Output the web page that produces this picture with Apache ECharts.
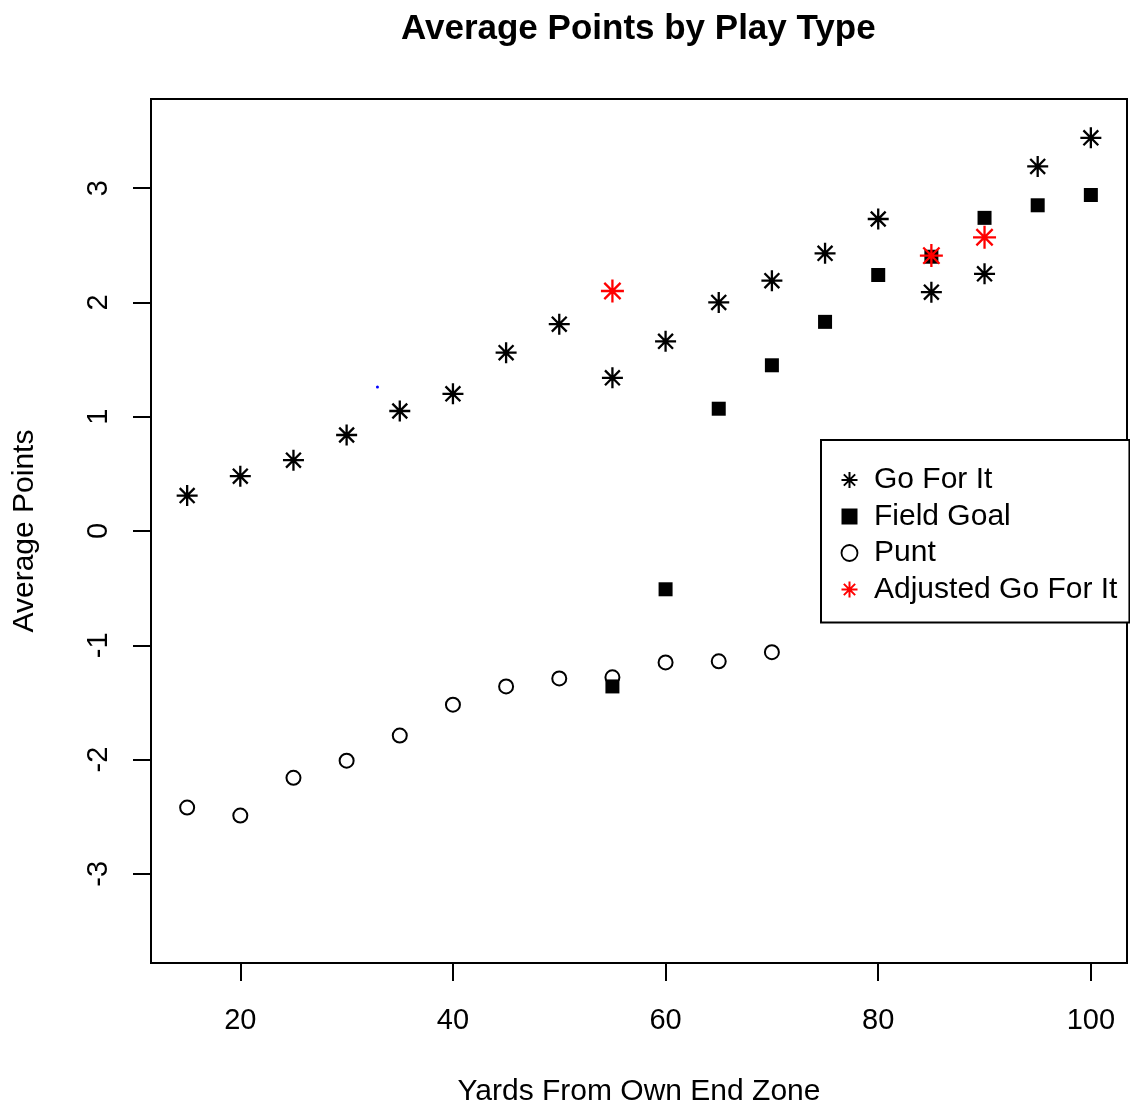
<!DOCTYPE html>
<html>
<head>
<meta charset="utf-8">
<script src="https://cdn.jsdelivr.net/npm/echarts@6/dist/echarts.min.js"></script>
<style>
html,body{margin:0;padding:0;background:#fff;}
#chart{width:1130px;height:1105px;}
</style>
</head>
<body>
<div id="chart"></div>
<script>
// ---- data ----
var goYards = [15,20,25,30,35,40,45,50,55,60,65,70,75,80,85,90,95,100];
var goForIt = [0.31,0.48,0.62,0.84,1.05,1.20,1.56,1.81,1.34,1.66,2.00,2.19,2.43,2.73,2.09,2.25,3.19,3.44];
var fgYards = [55,60,65,70,75,80,85,90,95,100];
var fieldGoal = [-1.36,-0.51,1.07,1.45,1.83,2.24,2.40,2.74,2.85,2.94];
var puntYards = [15,20,25,30,35,40,45,50,55,60,65,70];
var punt = [-2.42,-2.49,-2.16,-2.01,-1.79,-1.52,-1.36,-1.29,-1.28,-1.15,-1.14,-1.06];
var adjYards = [55,85,90];
var adjustedGoForIt = [2.10,2.41,2.57];
var strayYards = [32.9];
var strayPoints = [1.26];
var xTicks = [20,40,60,80,100];
var yTicks = [-3,-2,-1,0,1,2,3];

function pairs(xs, ys){ return xs.map(function(x,i){ return [x, ys[i]]; }); }

var STAR = 'path://M0,-10L0,10M-10,0L10,0M-7.07,-7.07L7.07,7.07M-7.07,7.07L7.07,-7.07';
var FONT = '"Liberation Sans", Arial, Helvetica, sans-serif';

var chart = echarts.init(document.getElementById('chart'), null, {renderer:'canvas'});
chart.setOption({
  animation: false,
  backgroundColor: '#fff',
  title: {
    text: 'Average Points by Play Type',
    left: 396, top: 7,
    textStyle: {fontFamily: FONT, fontSize: 35, fontWeight: 'bold', color: '#000'}
  },
  grid: {
    left: 151, right: 3, top: 99, bottom: 142,
    outerBoundsMode: 'none', containLabel: false,
    show: true, borderColor: '#000', borderWidth: 2, backgroundColor: 'transparent'
  },
  xAxis: {
    type: 'value', min: 11.6, max: 103.4,
    name: 'Yards From Own End Zone', nameLocation: 'middle', nameGap: 114,
    nameTextStyle: {fontFamily: FONT, fontSize: 30, color: '#000'},
    axisLine: {show: true, onZero: false, lineStyle: {color: '#000', width: 2}},
    axisTick: {show: true, length: 18, lineStyle: {color: '#000', width: 2}, customValues: xTicks},
    axisLabel: {fontFamily: FONT, fontSize: 29, color: '#000', margin: 43, customValues: xTicks},
    splitLine: {show: false}
  },
  yAxis: {
    type: 'value', min: -3.78, max: 3.78,
    name: 'Average Points', nameLocation: 'middle', nameGap: 111, nameRotate: 90,
    nameTextStyle: {fontFamily: FONT, fontSize: 30, color: '#000'},
    axisLine: {show: true, onZero: false, lineStyle: {color: '#000', width: 2}},
    axisTick: {show: true, length: 18, lineStyle: {color: '#000', width: 2}, customValues: yTicks},
    axisLabel: {fontFamily: FONT, fontSize: 29, color: '#000', margin: 38, rotate: 90, customValues: yTicks},
    splitLine: {show: false}
  },
  legend: {
    orient: 'vertical',
    left: 821, top: 440,
    padding: [25, 12, 18, 18],
    itemWidth: 39, itemHeight: 16, itemGap: 6.5,
    borderColor: '#000', borderWidth: 2, backgroundColor: '#fff',
    textStyle: {fontFamily: FONT, fontSize: 30, color: '#000'},
    selectedMode: false,
    data: [
      {name: 'Go For It', icon: STAR, itemStyle: {color: 'none', borderColor: '#000', borderWidth: 2}},
      {name: 'Field Goal', icon: 'path://M0,0L10,0L10,10L0,10Z', itemStyle: {color: '#000', borderWidth: 0}},
      {name: 'Punt', icon: 'circle', itemStyle: {color: 'rgba(0,0,0,0)', borderColor: '#000', borderWidth: 1.8}},
      {name: 'Adjusted Go For It', icon: STAR, itemStyle: {color: 'none', borderColor: '#f00', borderWidth: 2}}
    ]
  },
  series: [
    {
      name: 'Go For It', type: 'scatter', data: pairs(goYards, goForIt),
      symbol: STAR, symbolSize: 21,
      itemStyle: {color: 'none', borderColor: '#000', borderWidth: 2.3, opacity: 1}
    },
    {
      name: 'Field Goal', type: 'scatter', data: pairs(fgYards, fieldGoal),
      symbol: 'rect', symbolSize: 14,
      itemStyle: {color: '#000', opacity: 1}
    },
    {
      name: 'Punt', type: 'scatter', data: pairs(puntYards, punt),
      symbol: 'circle', symbolSize: 14,
      itemStyle: {color: 'rgba(0,0,0,0)', borderColor: '#000', borderWidth: 2, opacity: 1}
    },
    {
      name: 'Adjusted Go For It', type: 'scatter', data: pairs(adjYards, adjustedGoForIt),
      symbol: STAR, symbolSize: 23,
      itemStyle: {color: 'none', borderColor: '#f00', borderWidth: 2.3, opacity: 1}
    },
    {
      name: 'stray', type: 'scatter', data: pairs(strayYards, strayPoints),
      symbol: 'circle', symbolSize: 3,
      itemStyle: {color: '#0000ff', opacity: 1}
    }
  ]
});
</script>
</body>
</html>
